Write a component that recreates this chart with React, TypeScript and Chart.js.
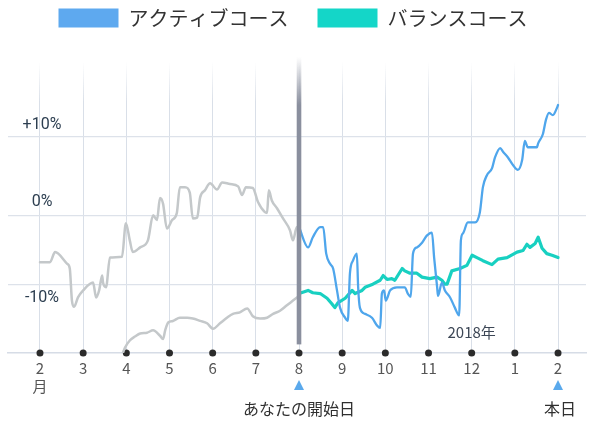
import React, { useEffect, useRef } from "react";
import { Chart, registerables } from "chart.js";

Chart.register(...registerables);

// ---- data ----
const monthTickValues = [0, 1, 2, 3, 4, 5, 6, 7, 8, 9, 10, 11, 12];
const monthTickLabels: (string | string[])[] = [["2", "月"], "3", "4", "5", "6", "7", "8", "9", "10", "11", "12", "1", "2"];

const gridLineValues = [10, 0, -8.8];
const yLabelTexts = ["+10%", "0%", "-10%"];
const yLabelValues = [11.5, 1.7, -10.6];

const legendActive = "アクティブコース";
const legendBalance = "バランスコース";

const activeBacktestX = [0, 0.23, 0.35, 0.63, 0.69, 0.74, 0.79, 0.88, 1.0, 1.23, 1.3, 1.37, 1.44, 1.46, 1.53, 1.62, 1.9, 1.99, 2.08, 2.15, 2.32, 2.5, 2.62, 2.71, 2.78, 2.85, 2.94, 3.06, 3.17, 3.24, 3.36, 3.47, 3.54, 3.64, 3.71, 3.82, 3.94, 4.1, 4.22, 4.4, 4.59, 4.68, 4.77, 4.93, 5.05, 5.21, 5.26, 5.3, 5.37, 5.49, 5.63, 5.79, 5.86, 5.95, 6.0];
const activeBacktestY = [-6.0, -6.0, -4.7, -6.2, -6.8, -10.9, -11.7, -10.5, -9.6, -8.6, -10.5, -9.6, -7.7, -8.6, -9.2, -5.4, -5.3, -1.0, -3.2, -4.7, -4.1, -3.2, 0.0, -0.6, 2.2, 1.5, -1.7, -0.6, 0.3, 3.6, 3.6, 2.9, -0.4, -0.3, 2.3, 3.2, 4.1, 3.3, 4.2, 4.0, 3.7, 2.6, 3.6, 3.5, 1.7, 0.4, 0.3, 3.2, 1.9, 0.9, -0.4, -1.9, -3.2, -1.5, -1.5];

const balanceBacktestX = [1.88, 1.97, 2.08, 2.2, 2.32, 2.48, 2.62, 2.78, 2.85, 2.9, 2.97, 3.08, 3.24, 3.41, 3.54, 3.71, 3.87, 4.01, 4.17, 4.33, 4.47, 4.63, 4.8, 4.93, 5.1, 5.26, 5.4, 5.56, 5.72, 5.86, 6.0];
const balanceBacktestY = [-18.2, -16.9, -16.0, -15.5, -15.1, -15.0, -14.7, -15.4, -15.8, -14.7, -13.7, -13.5, -13.1, -13.1, -13.2, -13.5, -13.8, -14.5, -13.8, -13.1, -12.6, -12.4, -11.9, -12.9, -13.2, -13.1, -12.6, -12.2, -11.5, -10.9, -10.3];

const activeX = [6.0, 6.21, 6.32, 6.49, 6.56, 6.63, 6.72, 6.79, 6.88, 6.95, 7.07, 7.13, 7.18, 7.25, 7.34, 7.37, 7.41, 7.53, 7.69, 7.81, 7.88, 7.92, 7.97, 8.01, 8.11, 8.27, 8.45, 8.52, 8.59, 8.64, 8.73, 8.85, 8.96, 9.08, 9.13, 9.2, 9.22, 9.31, 9.38, 9.5, 9.61, 9.71, 9.75, 9.8, 9.91, 10.08, 10.19, 10.26, 10.35, 10.47, 10.54, 10.66, 10.73, 10.84, 10.96, 11.07, 11.17, 11.23, 11.3, 11.51, 11.54, 11.65, 11.72, 11.79, 11.88, 11.98, 12.0];
const activeY = [-1.5, -4.1, -2.8, -1.5, -1.5, -4.9, -6.2, -6.8, -9.6, -11.8, -13.1, -13.5, -7.4, -5.8, -4.9, -9.2, -11.8, -12.6, -13.1, -14.1, -14.4, -10.0, -9.6, -10.9, -9.6, -9.2, -9.2, -10.0, -10.4, -4.9, -4.1, -3.5, -2.6, -2.2, -5.4, -9.2, -10.3, -8.6, -9.6, -10.5, -11.8, -12.8, -3.2, -2.3, -0.9, -0.9, 0.4, 3.6, 5.1, 6.0, 7.4, 8.6, 8.1, 7.4, 6.4, 5.8, 7.1, 9.5, 8.7, 8.7, 9.2, 10.4, 12.2, 13.1, 12.8, 13.8, 14.1];

const balanceX = [6.0, 6.21, 6.32, 6.49, 6.65, 6.76, 6.83, 6.9, 7.07, 7.23, 7.3, 7.46, 7.53, 7.71, 7.88, 7.95, 8.04, 8.15, 8.22, 8.39, 8.45, 8.57, 8.73, 8.85, 9.03, 9.2, 9.31, 9.38, 9.43, 9.54, 9.73, 9.89, 10.01, 10.12, 10.26, 10.47, 10.61, 10.82, 11.05, 11.19, 11.28, 11.35, 11.47, 11.54, 11.63, 11.74, 11.86, 12.0];
const balanceY = [-10.0, -9.6, -9.9, -10.0, -10.6, -11.3, -11.8, -11.2, -10.6, -9.6, -10.0, -9.6, -9.2, -8.8, -8.3, -7.7, -8.2, -8.1, -8.3, -6.8, -7.1, -7.4, -7.4, -7.9, -8.1, -7.9, -8.3, -8.8, -8.8, -7.1, -6.8, -6.4, -5.1, -5.4, -5.8, -6.3, -5.6, -5.4, -4.7, -4.5, -3.7, -4.1, -3.6, -2.8, -4.2, -4.9, -5.1, -5.4];

const startMonthValue = 6;
const startBarBottomValue = -16.5;
const markerValues = [6, 12];
const markerCaptions = ["あなたの開始日", "本日"];
const yearLabel = "2018年";
const yearLabelX = 10;
const yearLabelY = -15.0;

const X_MIN = -0.741;
const X_MAX = 12.648;
const Y_MIN = -17.6;
const Y_MAX = 19.6;

const zip = (xs: number[], ys: number[]) => xs.map((x, i) => ({ x, y: ys[i] }));

const JP = '"Noto Sans CJK JP", "Noto Sans", sans-serif';
const LEGEND_PAD = 29;

export default function App() {
  const ref = useRef<HTMLCanvasElement | null>(null);

  useEffect(() => {
    if (!ref.current) return;

    const legendSpacer = {
      id: "legendSpacer",
      beforeInit(chart: any) {
        const legend = chart.legend;
        if (!legend) return;
        const origFit = legend.fit;
        legend.fit = function () {
          origFit.call(this);
          this.height = 62;
        };
        const origDraw = legend.draw;
        legend.draw = function () {
          const ctx = this.ctx;
          ctx.save();
          ctx.translate(-4, 8 - LEGEND_PAD);
          origDraw.call(this);
          ctx.restore();
        };
      },
    };

    const annotations = {
      id: "annotations",
      afterDatasetsDraw(chart: any) {
        const { ctx, chartArea, scales } = chart;
        const xs = scales.x;
        const ys = scales.y;
        const bx = xs.getPixelForValue(startMonthValue);
        const top = chartArea.top - 5;
        const bottom = ys.getPixelForValue(startBarBottomValue);
        const g = ctx.createLinearGradient(0, top, 0, top + 48);
        g.addColorStop(0, "rgba(138,143,158,0)");
        g.addColorStop(1, "rgba(138,143,158,1)");
        ctx.save();
        ctx.fillStyle = g;
        ctx.fillRect(bx - 2.3, top, 4.6, bottom - top);
        ctx.restore();
      },
      afterDraw(chart: any) {
        const { ctx, chartArea, scales } = chart;
        const xs = scales.x;
        const ys = scales.y;
        ctx.save();
        ctx.font = "16px Roboto, sans-serif";
        ctx.fillStyle = "#2c3e50";
        ctx.textAlign = "center";
        ctx.textBaseline = "middle";
        const lx = xs.getPixelForValue(0) + 2;
        yLabelTexts.forEach((t, i) => {
          ctx.fillText(t, lx, ys.getPixelForValue(yLabelValues[i]));
        });
        ctx.font = "15px " + JP;
        ctx.fillStyle = "#3d4756";
        ctx.fillText(yearLabel, xs.getPixelForValue(yearLabelX), ys.getPixelForValue(yearLabelY));
        markerValues.forEach((v, i) => {
          const mx = xs.getPixelForValue(v);
          const ty = chartArea.bottom + 27;
          ctx.fillStyle = "#5aa9ec";
          ctx.beginPath();
          ctx.moveTo(mx, ty);
          ctx.lineTo(mx + 5, ty + 10);
          ctx.lineTo(mx - 5, ty + 10);
          ctx.closePath();
          ctx.fill();
          ctx.fillStyle = "#2f2f2f";
          ctx.font = "16px " + JP;
          ctx.fillText(markerCaptions[i], mx + (i === 1 ? 2 : 0), chartArea.bottom + 56);
        });
        ctx.restore();
      },
    };

    const chart = new Chart(ref.current, {
      type: "line",
      data: {
        datasets: [
          {
            label: "",
            data: zip(activeBacktestX, activeBacktestY),
            borderColor: "#c4c8ca",
            backgroundColor: "#c4c8ca",
            borderWidth: 2.5,
            pointRadius: 0,
            cubicInterpolationMode: "monotone",
          },
          {
            label: "",
            data: zip(balanceBacktestX, balanceBacktestY),
            borderColor: "#c4c8ca",
            backgroundColor: "#c4c8ca",
            borderWidth: 2.5,
            pointRadius: 0,
            cubicInterpolationMode: "monotone",
          },
          {
            label: legendActive,
            data: zip(activeX, activeY),
            borderColor: "#4fa6ec",
            backgroundColor: "#5ea9ef",
            borderWidth: 2.3,
            pointRadius: 0,
            cubicInterpolationMode: "monotone",
          },
          {
            label: legendBalance,
            data: zip(balanceX, balanceY),
            borderColor: "#18d0c1",
            backgroundColor: "#14d6c8",
            borderWidth: 3.2,
            pointRadius: 0,
            tension: 0,
          },
          {
            label: "",
            data: monthTickValues.map((m) => ({ x: m, y: Y_MIN })),
            showLine: false,
            pointRadius: 3.5,
            pointHoverRadius: 3.5,
            pointBackgroundColor: "#2b2b2b",
            pointBorderWidth: 0,
            borderColor: "#2b2b2b",
            backgroundColor: "#2b2b2b",
            clip: false as any,
          },
        ],
      },
      options: {
        animation: false,
        responsive: false,
        devicePixelRatio: 1,
        layout: { padding: { left: 8, right: 10, top: 0, bottom: 27 } },
        elements: { line: { borderJoinStyle: "round", borderCapStyle: "round" } },
        plugins: {
          tooltip: { enabled: false },
          legend: {
            display: true,
            position: "top",
            align: "center",
            labels: {
              boxWidth: 60,
              boxHeight: 19,
              padding: LEGEND_PAD,
              color: "#333",
              font: { size: 20, family: JP },
              generateLabels: (c: any) =>
                (Chart.defaults.plugins.legend.labels as any)
                  .generateLabels(c)
                  .filter((l: any) => l.text)
                  .map((l: any) => ({ ...l, lineWidth: 0 })),
            },
          },
        },
        scales: {
          x: {
            type: "linear",
            min: X_MIN,
            max: X_MAX,
            afterBuildTicks: (axis: any) => {
              axis.ticks = monthTickValues.map((v) => ({ value: v }));
            },
            grid: {
              drawTicks: false,
              lineWidth: 1,
              color: (ctx: any) => {
                const chart = ctx.chart;
                const area = chart.chartArea;
                if (!area) return "#d9dfe8";
                const g = chart.ctx.createLinearGradient(0, area.top, 0, area.top + 40);
                g.addColorStop(0, "rgba(217,223,232,0)");
                g.addColorStop(1, "rgba(217,223,232,1)");
                return g;
              },
            },
            border: { display: true, color: "#d6dce6", width: 1.5 },
            ticks: {
              padding: 6,
              color: "#555",
              font: { size: 15, family: JP },
              callback: (_v: any, i: number) => monthTickLabels[i],
            },
          },
          y: {
            type: "linear",
            min: Y_MIN,
            max: Y_MAX,
            afterBuildTicks: (axis: any) => {
              axis.ticks = gridLineValues.map((v) => ({ value: v }));
            },
            grid: { drawTicks: false, color: "#dde2ea", lineWidth: 1.2 },
            border: { display: false },
            ticks: { display: false },
          },
        },
      } as any,
      plugins: [legendSpacer, annotations],
    });

    return () => chart.destroy();
  }, []);

  return (
    <div style={{ position: "absolute", left: 0, top: 0, width: 596, height: 428, background: "#fff" }}>
      <canvas ref={ref} width={596} height={428} />
    </div>
  );
}
